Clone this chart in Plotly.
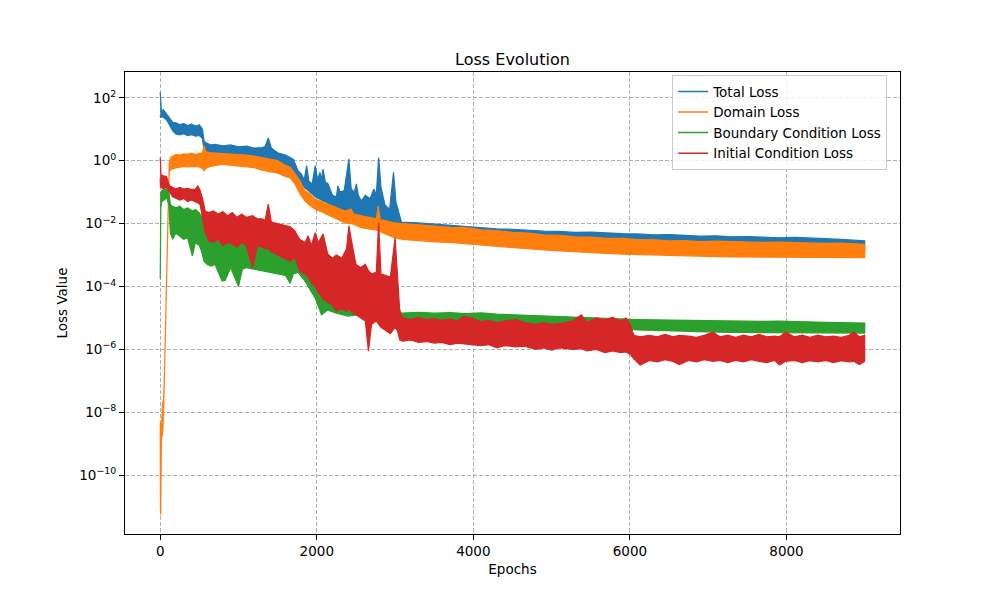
import plotly.graph_objects as go

total_ep = [0, 5, 15, 40, 80, 120, 160, 200, 250, 300, 350, 400, 450, 500, 540, 560, 600, 650, 700, 800,
            900, 1000, 1100, 1200, 1300, 1340, 1380, 1420, 1500, 1600, 1700, 1760, 1800, 1840, 1870, 1900,
            1940, 1980, 2010, 2040, 2060, 2080, 2110, 2140, 2200, 2250, 2270, 2300, 2350, 2410, 2440, 2480,
            2505, 2530, 2570, 2620, 2680, 2730, 2760, 2790, 2820, 2870, 2930, 2980, 3010, 3040, 3080, 3300,
            3500, 3700, 3900, 4100, 4300, 4500, 4700, 4900, 5100, 5300, 5500, 5700, 5900, 6100, 6300, 6500,
            6700, 6900, 7100, 7300, 7500, 7700, 7900, 8100, 8300, 8500, 8700, 8900, 8999]
total_hi = [2.18, 1.6, 1.55, 1.62, 1.5, 1.35, 1.22, 1.2, 1.15, 1.18, 1.12, 1.16, 1.1, 1.14, 1.0, 0.62, 0.55, 0.5,
            0.52, 0.47, 0.5, 0.44, 0.46, 0.4, 0.42, 0.45, 0.72, 0.4, 0.25, 0.18, 0.05, -0.32, -0.42, -0.6, -0.16,
            -0.65, -0.75, -0.16, -0.6, -0.37, -0.6, -0.27, -0.7, -0.72, -1.1, -1.15, -0.8, -1.0, -0.95, 0.05,
            -0.9, -1.0, -0.74, -1.1, -1.28, -1.1, -1.2, -0.9, -1.1, 0.1, -0.85, -1.4, -1.55, -0.37, -1.3, -1.6,
            -1.95, -1.98, -2.02, -2.05, -2.1, -2.12, -2.17, -2.18, -2.22, -2.24, -2.25, -2.28, -2.27, -2.3,
            -2.32, -2.33, -2.36, -2.35, -2.38, -2.4, -2.39, -2.42, -2.41, -2.44, -2.45, -2.44, -2.47, -2.48,
            -2.5, -2.52, -2.55]
total_lo = [1.45, 1.37, 1.4, 1.38, 1.3, 1.12, 0.95, 0.85, 0.82, 0.86, 0.8, 0.83, 0.78, 0.8, 0.7, 0.3, 0.22, 0.05,
            0.05, 0.02, 0.0, 0.0, -0.02, -0.05, -0.08, -0.1, -0.1, -0.12, -0.15, -0.25, -0.45, -0.6, -0.7, -0.85,
            -0.9, -0.98, -1.05, -1.15, -1.2, -1.22, -1.25, -1.28, -1.3, -1.35, -1.45, -1.5, -1.52, -1.55, -1.6,
            -1.62, -1.65, -1.68, -1.7, -1.72, -1.75, -1.78, -1.8, -1.82, -1.85, -1.85, -1.88, -1.9, -1.95,
            -1.98, -2.0, -2.05, -2.2, -2.25, -2.3, -2.33, -2.36, -2.4, -2.44, -2.48, -2.52, -2.55, -2.58, -2.6,
            -2.63, -2.65, -2.68, -2.7, -2.72, -2.73, -2.75, -2.76, -2.77, -2.78, -2.8, -2.81, -2.82, -2.83,
            -2.84, -2.85, -2.86, -2.87, -2.87]

domain_ep = [0, 3, 6, 9, 12, 15, 20, 30, 45, 60, 80, 95, 105, 115, 130, 160, 200, 250, 300, 350, 400, 450, 500,
             540, 560, 580, 620, 700, 800, 900, 1000, 1100, 1200, 1300, 1400, 1500, 1600, 1660, 1720, 1785,
             1850, 1910, 1980, 2060, 2140, 2250, 2360, 2440, 2470, 2570, 2680, 2760, 2785, 2810, 2900, 2990,
             3100, 3300, 3500, 3700, 3900, 4100, 4300, 4500, 4700, 4900, 5100, 5300, 5500, 5700, 5900, 6100,
             6300, 6500, 6700, 6900, 7100, 7300, 7500, 7700, 7900, 8100, 8300, 8500, 8700, 8900, 8999]
domain_hi = [-8.35, -8.3, -9.0, -8.6, -8.4, -8.5, -8.3, -7.75, -7.5, -6.2, -4.2, -2.1, -0.95, -0.1, 0.1, 0.15,
             0.2, 0.18, 0.22, 0.2, 0.24, 0.2, 0.22, 0.25, 0.48, 0.3, 0.26, 0.25, 0.24, 0.22, 0.2, 0.18, 0.15,
             0.1, 0.06, 0.0, -0.15, -0.21, -0.41, -0.64, -0.96, -1.05, -1.22, -1.3, -1.38, -1.5, -1.6, -1.54,
             -1.7, -1.75, -1.8, -1.85, -1.44, -1.88, -1.92, -1.98, -2.0, -2.04, -2.06, -2.12, -2.13, -2.2, -2.22,
             -2.28, -2.3, -2.36, -2.37, -2.42, -2.43, -2.47, -2.47, -2.51, -2.51, -2.55, -2.54, -2.57, -2.56,
             -2.58, -2.58, -2.6, -2.59, -2.61, -2.61, -2.63, -2.62, -2.65, -2.66]
domain_lo = [-8.4, -11.0, -11.26, -10.8, -9.5, -8.7, -8.8, -8.7, -7.8, -6.4, -4.4, -2.3, -1.15, -0.35, -0.3,
             -0.25, -0.22, -0.2, -0.18, -0.2, -0.2, -0.18, -0.2, -0.25, -0.32, -0.25, -0.2, -0.15, -0.12, -0.14,
             -0.16, -0.2, -0.22, -0.3, -0.35, -0.4, -0.5, -0.55, -0.74, -1.05, -1.28, -1.42, -1.54, -1.62, -1.7,
             -1.85, -1.98, -2.0, -2.02, -2.13, -2.18, -2.2, -2.23, -2.25, -2.35, -2.45, -2.5, -2.54, -2.58, -2.6,
             -2.63, -2.68, -2.72, -2.76, -2.8, -2.84, -2.87, -2.9, -2.93, -2.95, -2.97, -2.98, -3.0, -3.02,
             -3.03, -3.04, -3.05, -3.06, -3.06, -3.07, -3.08, -3.08, -3.08, -3.08, -3.08, -3.08, -3.08]

boundary_ep = [0, 2, 8, 20, 50, 85, 110, 130, 160, 200, 250, 300, 350, 410, 450, 500, 530, 560, 600, 650, 700,
               790, 830, 900, 1000, 1050, 1100, 1200, 1300, 1400, 1500, 1600, 1660, 1700, 1760, 1850, 1980, 2060,
               2140, 2250, 2400, 2520, 2650, 2780, 2860, 2950, 3030, 3080, 3300, 3500, 3700, 3900, 4100, 4300,
               4500, 4700, 4900, 5100, 5300, 5500, 5700, 5900, 6100, 6300, 6500, 6700, 6900, 7100, 7300, 7500,
               7700, 7900, 8100, 8300, 8500, 8700, 8900, 8999]
boundary_hi = [-3.72, -1.12, -1.0, -0.95, -0.92, -0.9, -1.0, -1.4, -1.45, -1.5, -1.45, -1.55, -1.5, -1.6, -1.55,
               -1.66, -1.8, -2.1, -2.45, -2.5, -2.45, -2.55, -2.5, -2.55, -2.6, -2.55, -2.6, -2.6, -2.65, -2.75,
               -2.85, -2.95, -3.0, -3.05, -3.1, -3.45, -4.0, -4.2, -4.35, -4.4, -4.4, -4.45, -4.5, -4.15, -4.5,
               -4.55, -4.6, -4.85, -4.82, -4.85, -4.83, -4.86, -4.84, -4.88, -4.9, -4.92, -4.95, -4.96, -4.98,
               -5.0, -5.02, -5.04, -5.05, -5.06, -5.07, -5.08, -5.08, -5.09, -5.1, -5.1, -5.11, -5.1, -5.12,
               -5.13, -5.14, -5.15, -5.16, -5.16]
boundary_lo = [-3.75, -3.72, -1.5, -1.3, -1.25, -1.18, -1.4, -2.3, -2.5, -2.3, -2.4, -2.5, -2.45, -3.03, -2.6,
               -2.7, -2.9, -3.2, -3.3, -3.35, -3.3, -3.83, -3.8, -3.4, -4.0, -3.45, -3.4, -3.45, -3.5, -3.55,
               -3.6, -3.65, -3.9, -3.6, -3.55, -3.83, -4.37, -4.9, -4.75, -4.85, -4.94, -4.9, -4.95, -4.9, -5.0,
               -5.0, -5.05, -5.1, -5.16, -5.18, -5.17, -5.2, -5.2, -5.22, -5.24, -5.26, -5.28, -5.3, -5.32, -5.34,
               -5.35, -5.36, -5.38, -5.4, -5.42, -5.43, -5.44, -5.45, -5.46, -5.46, -5.47, -5.48, -5.48, -5.48,
               -5.48, -5.48, -5.48, -5.48]

initial_ep = [0, 2, 10, 40, 80, 120, 160, 200, 250, 300, 350, 400, 450, 480, 510, 540, 575, 620, 680, 740, 800,
              860, 920, 980, 1040, 1100, 1180, 1240, 1300, 1340, 1380, 1420, 1500, 1580, 1660, 1720, 1780, 1850,
              1890, 1930, 1980, 2020, 2080, 2140, 2200, 2250, 2320, 2380, 2410, 2440, 2500, 2560, 2620, 2660,
              2700, 2760, 2790, 2820, 2880, 2940, 3000, 3030, 3060,
              3100, 3200, 3300, 3400, 3500, 3600, 3700, 3800, 3870, 3970, 4100, 4200, 4300, 4400, 4550, 4650,
              4800, 4900, 5000, 5100, 5270, 5380, 5450, 5570, 5680, 5780, 5880, 5950, 6000, 6050, 6130, 6250,
              6350, 6450, 6550, 6630, 6750, 6850, 6950, 7060, 7150, 7250, 7350, 7450, 7550, 7650, 7750, 7850,
              7910, 7990, 8100, 8200, 8300, 8400, 8500, 8600, 8700, 8800, 8860, 8930, 8999]
initial_hi = [0.1, -0.4, -0.45, -0.48, -0.5, -0.8, -0.85, -0.9, -0.85, -0.9, -0.88, -0.92, -0.9, -0.8, -0.95,
              -1.2, -1.6, -1.65, -1.6, -1.7, -1.62, -1.75, -1.65, -1.8, -1.7, -1.8, -1.75, -1.85, -1.85, -1.9,
              -1.38, -1.95, -2.0, -2.05, -2.1, -2.23, -2.5, -2.6, -2.39, -2.7, -2.29, -2.6, -2.33, -2.97, -3.1,
              -3.0, -3.1, -2.8, -2.07, -2.5, -3.3, -3.4, -3.3, -3.5, -3.6, -3.55, -1.97, -3.6, -3.65, -3.7, -2.45,
              -3.7, -4.8,
              -5.0, -5.05, -4.98, -5.05, -5.02, -5.08, -5.03, -5.1, -4.95, -5.0, -5.12, -5.08, -5.15, -5.1,
              -5.05, -5.15, -5.2, -5.15, -5.2, -5.18, -5.1, -4.9, -5.15, -5.0, -5.05, -4.98, -5.1, -5.0, -5.2,
              -5.55, -5.6, -5.55, -5.6, -5.52, -5.6, -5.55, -5.58, -5.62, -5.55, -5.45, -5.6, -5.55, -5.62,
              -5.55, -5.6, -5.52, -5.6, -5.58, -5.6, -5.45, -5.6, -5.55, -5.62, -5.55, -5.6, -5.58, -5.62,
              -5.55, -5.45, -5.6, -5.55]
initial_lo = [-0.55, -0.8, -0.85, -0.9, -0.85, -1.0, -1.15, -1.2, -1.25, -1.2, -1.3, -1.25, -1.3, -1.34, -1.4,
              -1.8, -2.3, -2.55, -2.6, -2.5, -2.7, -2.6, -2.65, -2.75, -2.6, -2.7, -3.4, -2.7, -2.75, -2.8, -2.8,
              -2.9, -3.0, -3.1, -3.2, -3.08, -3.5, -3.6, -3.7, -3.9, -4.0, -4.2, -4.4, -4.5, -4.6, -4.78, -4.7,
              -4.8, -4.7, -4.8, -4.9, -5.0, -5.1, -6.06, -5.2, -5.1, -5.2, -5.3, -5.4, -5.5, -5.3, -5.4, -5.7,
              -5.74, -5.7, -5.78, -5.75, -5.8, -5.78, -5.85, -5.8, -5.82, -5.85, -5.88, -5.85, -5.95, -5.88,
              -5.92, -5.9, -6.0, -5.95, -6.02, -5.95, -6.0, -5.98, -6.05, -6.0, -6.1, -6.05, -6.1, -6.08, -6.15,
              -6.3, -6.5, -6.35, -6.4, -6.33, -6.38, -6.48, -6.35, -6.4, -6.33, -6.38, -6.35, -6.42, -6.35,
              -6.4, -6.33, -6.38, -6.42, -6.35, -6.5, -6.38, -6.35, -6.42, -6.36, -6.4, -6.35, -6.42, -6.36,
              -6.4, -6.38, -6.48, -6.38]

series = [
    ("Total Loss", "#1f77b4", total_ep, total_hi, total_lo),
    ("Domain Loss", "#ff7f0e", domain_ep, domain_hi, domain_lo),
    ("Boundary Condition Loss", "#2ca02c", boundary_ep, boundary_hi, boundary_lo),
    ("Initial Condition Loss", "#d62728", initial_ep, initial_hi, initial_lo),
]

fig = go.Figure()

for name, color, ep, hi, lo in series:
    xs = ep + ep[::-1]
    ys = [10 ** v for v in hi] + [10 ** v for v in lo[::-1]]
    fig.add_trace(go.Scatter(
        x=xs, y=ys, mode="lines", fill="toself", fillcolor=color,
        line=dict(color=color, width=1.2), showlegend=False, hoverinfo="skip",
        legendgroup=name,
    ))

# legend entries as plain lines, like the matplotlib legend
for name, color, ep, hi, lo in series:
    fig.add_trace(go.Scatter(
        x=[None], y=[None], mode="lines", name=name,
        line=dict(color=color, width=1.5), legendgroup=name,
    ))

ytick_vals = [1e2, 1e0, 1e-2, 1e-4, 1e-6, 1e-8, 1e-10]
ytick_text = ["10<sup>2</sup>", "10<sup>0</sup>", "10<sup>\u22122</sup>", "10<sup>\u22124</sup>",
              "10<sup>\u22126</sup>", "10<sup>\u22128</sup>", "10<sup>\u221210</sup>"]
xtick_vals = [0, 2000, 4000, 6000, 8000]

axis_common = dict(
    showline=True, linecolor="black", linewidth=1, mirror=True,
    ticks="outside", ticklen=5, tickcolor="black",
    showgrid=True, gridcolor="#b0b0b0", griddash="4px,2px", gridwidth=0.8,
    zeroline=False, tickfont=dict(size=13.5, color="black"),
)

fig.update_xaxes(
    range=[-450, 9450], tickvals=xtick_vals, ticktext=[str(v) for v in xtick_vals],
    title=dict(text="Epochs", font=dict(size=13.5, color="black"), standoff=6),
    **axis_common,
)
fig.update_yaxes(
    type="log", range=[-11.87, 2.82], tickvals=ytick_vals, ticktext=ytick_text,
    title=dict(text="Loss Value", font=dict(size=13.5, color="black"), standoff=8),
    **axis_common,
)

# the page puts the figure 8px in from the top-left corner, so the margins make up for it
fig.update_layout(
    width=1000, height=600,
    margin=dict(l=117, r=108, t=64, b=74),
    paper_bgcolor="white", plot_bgcolor="white",
    font=dict(family="DejaVu Sans", color="black"),
    title=dict(text="Loss Evolution", xref="paper", x=0.5, xanchor="center", y=0.915, yanchor="middle",
               font=dict(size=16, color="black")),
    legend=dict(x=0.706, y=0.993, xanchor="left", yanchor="top",
                bgcolor="rgba(255,255,255,0.8)", bordercolor="#cccccc", borderwidth=1,
                font=dict(size=13.5, color="black"), tracegroupgap=0),
)

fig.write_html("out.html")
